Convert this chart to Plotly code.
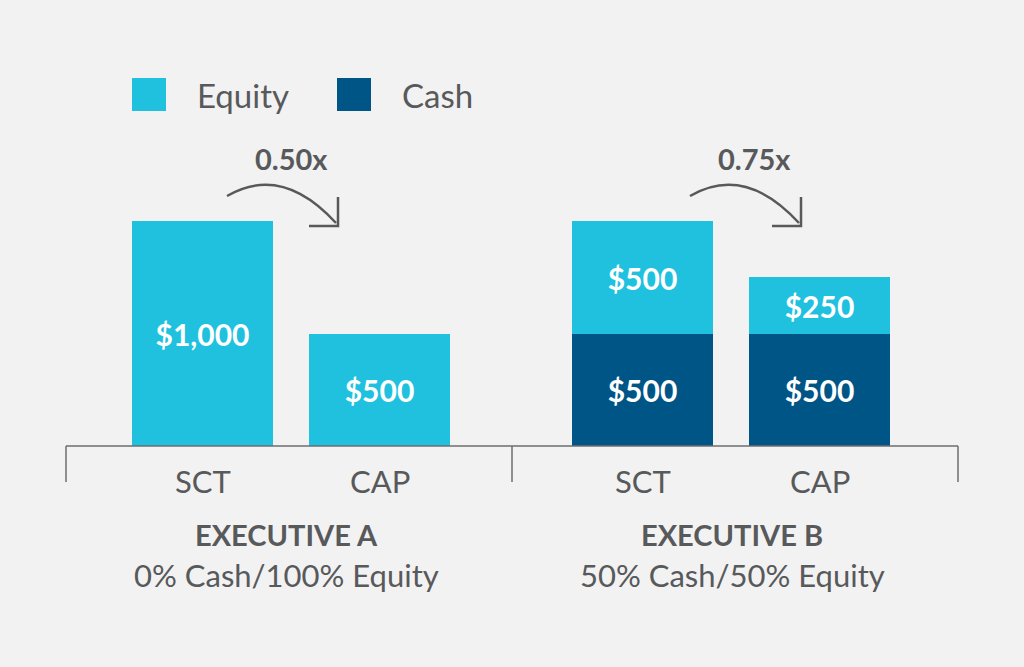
import plotly.graph_objects as go

# data
bars = ["A-SCT", "A-CAP", "B-SCT", "B-CAP"]
cat_labels = ["SCT", "CAP", "SCT", "CAP"]
cash = [0, 0, 500, 500]
equity = [1000, 500, 500, 250]
multiples = ["0.50x", "0.75x"]
exec_names = ["EXECUTIVE A", "EXECUTIVE B"]
exec_mix = ["0% Cash/100% Equity", "50% Cash/50% Equity"]

# layout (pixel based)
W, H = 1024, 667
BASE = 446            # baseline pixel
PX_PER_USD = 0.225
bar_x = [202.5, 379.5, 642.5, 819.5]
bar_w = 141
group_x = [286, 732]

EQ_COL = "#1fc1de"
CASH_COL = "#005587"
TXT = "#58595b"
BG = "#f2f2f2"
FONT = "Lato"


def px(x):
    return x / W


def py(y):
    return 1 - y / H


def money(v):
    return f"${v:,}" if v else ""


fig = go.Figure()
fig.add_trace(go.Bar(x=bar_x, y=cash, width=bar_w, marker=dict(color=CASH_COL, line_width=0),
                     text=[money(v) for v in cash], name="Cash"))
fig.add_trace(go.Bar(x=bar_x, y=equity, width=bar_w, marker=dict(color=EQ_COL, line_width=0),
                     text=[money(v) for v in equity], name="Equity"))
fig.update_traces(textposition="inside", insidetextanchor="middle", textangle=0,
                  textfont=dict(color="white", size=30, family=FONT, weight="bold"),
                  hoverinfo="skip")

shapes = []
ann = []
line = dict(color="#6d6e71", width=1.5)
# baseline and brackets
shapes.append(dict(type="line", xref="paper", yref="paper", x0=px(66), x1=px(958), y0=py(BASE), y1=py(BASE), line=line))
for tx in [66, 512, 958]:
    shapes.append(dict(type="line", xref="paper", yref="paper", x0=px(tx), x1=px(tx), y0=py(BASE), y1=py(482), line=line))

# category labels
for x, lab in zip(bar_x, cat_labels):
    ann.append(dict(x=px(x), y=py(481), text=lab, font=dict(size=31, color=TXT, family=FONT)))

for gx, nm, mix in zip(group_x, exec_names, exec_mix):
    ann.append(dict(x=px(gx), y=py(534), text=nm, font=dict(size=29, color=TXT, family=FONT, weight="bold")))
    ann.append(dict(x=px(gx), y=py(575), text=mix, font=dict(size=31, color=TXT, family=FONT)))

# arrows
arrow_col = "#58595b"
for i, (dx, m) in enumerate(zip([0, 463], multiples)):
    p = lambda x, y: f"{px(x + dx):.5f},{py(y):.5f}"
    path = f"M {p(227, 196)} Q {p(282, 164)} {p(336, 223)}"
    shapes.append(dict(type="path", xref="paper", yref="paper", path=path, line=dict(color=arrow_col, width=2.5)))
    head = f"M {p(338, 197)} L {p(338, 226)} L {p(309, 226)}"
    shapes.append(dict(type="path", xref="paper", yref="paper", path=head, line=dict(color=arrow_col, width=2.5)))
    ann.append(dict(x=px(291 + dx), y=py(159), text=m, font=dict(size=29, color=TXT, family=FONT, weight="bold")))

# legend
for x0, col, lab in [(132, EQ_COL, "Equity"), (337, CASH_COL, "Cash")]:
    shapes.append(dict(type="rect", xref="paper", yref="paper", x0=px(x0), x1=px(x0 + 34), y0=py(78), y1=py(111),
                       fillcolor=col, line_width=0))
    ann.append(dict(x=px(x0 + 63), y=py(95), text=lab, xanchor="left", font=dict(size=33, color=TXT, family=FONT)))

for a in ann:
    a.update(xref="paper", yref="paper", showarrow=False, yanchor=a.get("yanchor", "middle"),
             xanchor=a.get("xanchor", "center"))

fig.update_layout(
    width=W, height=H, autosize=False,
    margin=dict(l=0, r=0, t=0, b=0),
    paper_bgcolor=BG, plot_bgcolor=BG,
    barmode="stack", bargap=0, showlegend=False,
    xaxis=dict(range=[0, W], visible=False, fixedrange=True),
    yaxis=dict(range=[-(H - BASE) / PX_PER_USD, BASE / PX_PER_USD], visible=False, fixedrange=True),
    shapes=shapes, annotations=ann,
)

# drop the default page margin so the figure fills the window
fig.write_html("out.html", config={"displayModeBar": False},
               post_script=f"document.body.style.margin='0';document.body.style.background='{BG}';")
